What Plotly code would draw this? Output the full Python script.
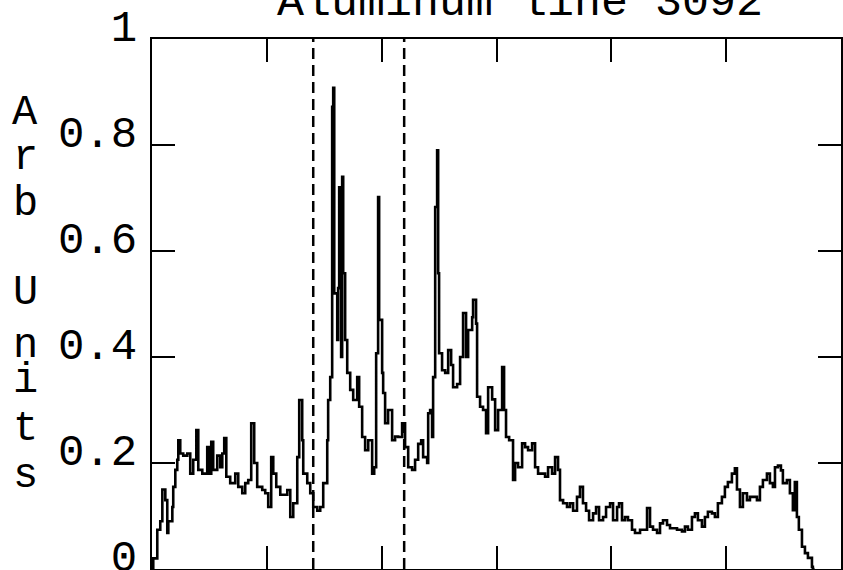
import plotly.graph_objects as go

# Signal (arbitrary x units, 0-600 across the frame)
x_vals = [0, 1.1, 4.6, 7.2, 9.0, 11.6, 13.3, 14.2, 17.7, 18.5, 20.3, 22.0, 22.9, 24.6, 27.2, 30.7,
          33.3, 35.9, 38.6, 40.3, 43.8, 46.4, 48.1, 49.9, 51.6, 53.3, 56.8, 59.4, 61.2, 62.9, 64.7,
          68.1, 72.5, 75.1, 78.6, 81.2, 83.8, 86.4, 89.0, 91.6, 96.0, 98.6, 101.2, 103.8, 105.6,
          108.2, 111.7, 114.3, 117.8, 120.4, 123.0, 126.5, 128.2, 130.8, 131.7, 135.2, 137.8,
          140.4, 143.9, 146.5, 149.1, 152.6, 153.4, 155.2, 156.9, 157.8, 158.7, 161.3, 162.1,
          163.0, 164.7, 165.6, 166.5, 168.2, 170.0, 172.6, 175.2, 178.7, 180.4, 183.0, 185.6,
          188.3, 191.7, 193.5, 195.2, 196.9, 197.8, 200.4, 201.3, 203.0, 205.6, 209.1, 211.7,
          214.4, 217.8, 220.4, 223.1, 226.5, 229.1, 231.8, 234.4, 236.1, 239.6, 240.5, 242.2,
          243.9, 244.8, 246.6, 248.3, 249.2, 250.0, 252.6, 255.3, 257.9, 260.5, 262.2, 265.7,
          268.3, 270.9, 273.5, 275.3, 278.8, 279.6, 282.2, 283.1, 285.7, 288.3, 290.9, 292.7,
          296.2, 298.8, 301.4, 304.9, 306.6, 308.3, 311.0, 314.4, 316.2, 318.8, 322.3, 324.9,
          327.5, 331.0, 333.6, 336.2, 339.7, 342.3, 344.9, 348.4, 351.0, 353.6, 355.3, 358.0,
          361.4, 364.0, 366.7, 370.1, 372.7, 375.3, 378.0, 380.6, 384.1, 386.7, 389.3, 392.8,
          395.4, 398.9, 401.5, 405.0, 406.7, 409.3, 411.9, 414.5, 418.0, 420.6, 425.0, 429.3,
          431.1, 433.7, 436.3, 439.8, 442.4, 445.0, 448.5, 451.1, 453.7, 457.2, 461.5, 464.1,
          466.7, 470.2, 472.8, 475.4, 478.9, 481.5, 484.1, 487.6, 490.2, 492.8, 496.3, 498.9,
          501.5, 505.0, 507.6, 509.4, 512.0, 514.6, 518.1, 520.7, 523.3, 526.8, 529.4, 532.0,
          535.5, 538.1, 540.7, 542.5, 545.1, 547.7, 549.4, 552.9, 555.5, 558.1, 559.8, 561.6,
          563.3, 566.0, 568.6, 571.2, 574.7, 575.5, 577.0]
y_vals = [0.0, 0.02, 0.074, 0.09, 0.15, 0.13, 0.068, 0.09, 0.117, 0.155, 0.187, 0.206, 0.243, 0.218,
          0.214, 0.218, 0.18, 0.206, 0.262, 0.187, 0.18, 0.18, 0.23, 0.18, 0.24, 0.187, 0.214,
          0.192, 0.218, 0.247, 0.174, 0.162, 0.18, 0.155, 0.143, 0.162, 0.168, 0.275, 0.2, 0.155,
          0.149, 0.143, 0.117, 0.211, 0.18, 0.155, 0.14, 0.14, 0.149, 0.098, 0.124, 0.211, 0.319,
          0.243, 0.18, 0.162, 0.143, 0.117, 0.11, 0.117, 0.162, 0.243, 0.319, 0.362, 0.872, 0.908,
          0.52, 0.432, 0.53, 0.72, 0.4, 0.74, 0.558, 0.432, 0.37, 0.338, 0.319, 0.362, 0.306,
          0.249, 0.224, 0.243, 0.18, 0.192, 0.407, 0.702, 0.47, 0.37, 0.332, 0.275, 0.3, 0.243,
          0.25, 0.249, 0.275, 0.23, 0.192, 0.187, 0.206, 0.236, 0.243, 0.211, 0.2, 0.294, 0.3,
          0.249, 0.362, 0.683, 0.79, 0.558, 0.407, 0.375, 0.37, 0.413, 0.385, 0.343, 0.349, 0.4,
          0.483, 0.4, 0.451, 0.475, 0.508, 0.463, 0.325, 0.306, 0.3, 0.256, 0.343, 0.32, 0.262,
          0.3, 0.381, 0.3, 0.249, 0.243, 0.168, 0.2, 0.192, 0.237, 0.23, 0.224, 0.237, 0.192,
          0.18, 0.18, 0.174, 0.192, 0.18, 0.211, 0.187, 0.13, 0.124, 0.117, 0.124, 0.11, 0.136,
          0.155, 0.124, 0.11, 0.092, 0.105, 0.117, 0.092, 0.098, 0.117, 0.124, 0.092, 0.117,
          0.124, 0.092, 0.098, 0.092, 0.074, 0.068, 0.074, 0.074, 0.115, 0.08, 0.074, 0.068,
          0.086, 0.092, 0.083, 0.077, 0.077, 0.074, 0.071, 0.08, 0.074, 0.098, 0.105, 0.092,
          0.08, 0.098, 0.108, 0.105, 0.098, 0.124, 0.136, 0.155, 0.164, 0.18, 0.19, 0.15, 0.117,
          0.143, 0.13, 0.136, 0.136, 0.13, 0.155, 0.168, 0.18, 0.162, 0.155, 0.192, 0.195, 0.186,
          0.162, 0.168, 0.143, 0.111, 0.164, 0.098, 0.074, 0.042, 0.03, 0.021, 0.004, 0.0, 0.0]

marker_lines = [140.4, 219.6]          # dashed vertical markers
y_tick_vals = [0, 0.2, 0.4, 0.6, 0.8, 1]
y_tick_text = ["0", "0.2", "0.4", "0.6", "0.8", "1"]
x_tick_vals = [0, 100, 200, 300, 400, 500, 600]
title_text = "Aluminum line 3092"
ylabel_letters = ["A", "r", "b", "U", "n", "i", "t", "s"]

FONT = "Liberation Mono"
W, H = 843, 570
ML, MR, MT, MB = 152, 2, 39, 1
plot_h = H - MT - MB

fig = go.Figure()
fig.add_trace(go.Scatter(x=x_vals, y=y_vals, mode="lines", line_shape="hv",
                         line=dict(color="black", width=2.6), showlegend=False,
                         hoverinfo="skip"))

for xv in marker_lines:
    fig.add_shape(type="line", xref="x", yref="paper", x0=xv, x1=xv, y0=0, y1=1,
                  line=dict(color="black", width=2.5, dash="11px,6px"))

# vertical stacked y-axis label (baseline rows, pixels from the figure top)
label_baselines = [127, 172, 218, 307, 360, 395, 443, 490]
for ch, base in zip(ylabel_letters, label_baselines):
    fig.add_annotation(text=ch, xref="paper", yref="paper", x=0, xshift=-127,
                       y=(H - MB - base) / plot_h, yanchor="bottom", yshift=-12,
                       xanchor="center", showarrow=False,
                       font=dict(family=FONT, size=42, color="black"))

fig.update_layout(
    template="none",
    width=W, height=H,
    margin=dict(l=ML, r=MR, t=MT, b=MB, pad=0, autoexpand=False),
    paper_bgcolor="white", plot_bgcolor="white",
    hovermode=False,
    title=dict(text=title_text, x=0.534, xref="paper", xanchor="center",
               y=1 - 15 / H, yref="container", yanchor="bottom",
               pad=dict(b=0, t=0, l=0, r=0), automargin=False,
               font=dict(family=FONT, size=45, color="black")),
    xaxis=dict(range=[0, 600], tickvals=x_tick_vals, showticklabels=False,
               ticks="inside", ticklen=23, tickwidth=2, tickcolor="black",
               showline=True, linecolor="black", linewidth=2, mirror="ticks",
               showgrid=False, zeroline=False, automargin=False),
    yaxis=dict(range=[0, 1], tickvals=y_tick_vals, ticktext=y_tick_text,
               ticks="inside", ticklen=23, tickwidth=2, tickcolor="black",
               showline=True, linecolor="black", linewidth=2, mirror="ticks",
               showgrid=False, zeroline=False, automargin=False,
               ticklabelshift=-13, ticklabelstandoff=4, ticklabeloverflow="allow",
               tickfont=dict(family=FONT, size=44, color="black")),
)

# remove the default page margin so the 843x570 figure fills the window exactly
fig.write_html("out.html",
               config={"displayModeBar": False, "staticPlot": True},
               post_script="document.body.style.margin='0px';document.body.style.overflow='hidden';")
